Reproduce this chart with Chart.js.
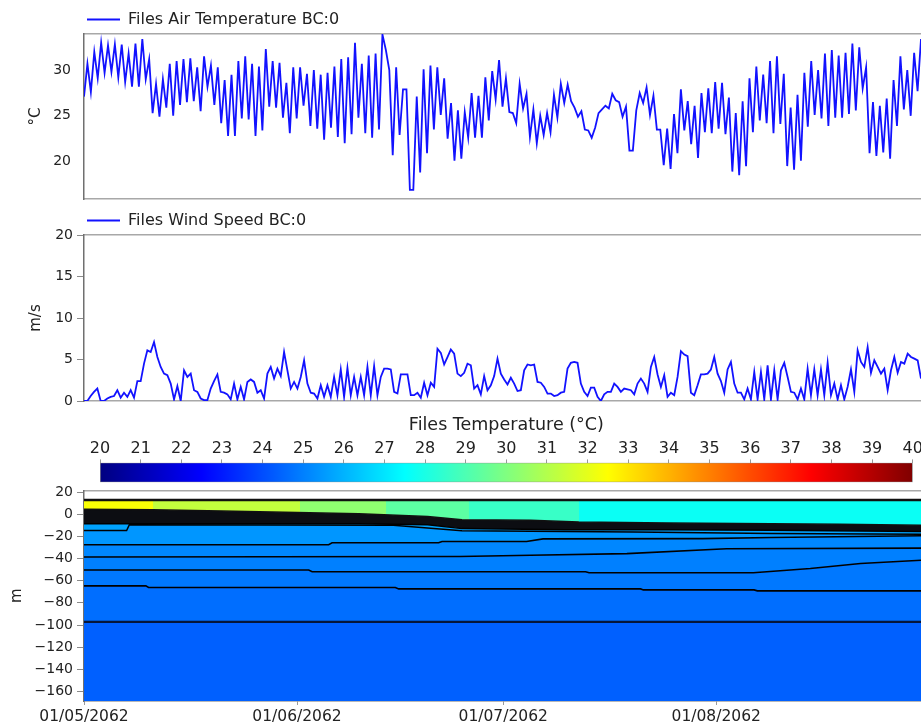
<!DOCTYPE html>
<html>
<head>
<meta charset="utf-8">
<script src="https://cdn.jsdelivr.net/npm/chart.js@4.4.1/dist/chart.umd.min.js"></script>
<style>
  html, body { margin: 0; padding: 0; background: #fff; width: 921px; height: 724px; overflow: hidden; }
  canvas { position: absolute; left: 0; }
</style>
</head>
<body>
<canvas id="airChart" width="921" height="224" style="top:0px"></canvas>
<canvas id="windChart" width="921" height="215" style="top:201px"></canvas>
<canvas id="colourBar" width="921" height="80" style="top:405px"></canvas>
<canvas id="profileChart" width="921" height="246" style="top:478px"></canvas>
<script>
// ---- time axis (days since 01/05/2062) ----
const DAYS_SPAN = 121.8;
const monthTicks = [0, 31, 61, 92];
const monthLabels = ['01/05/2062', '01/06/2062', '01/07/2062', '01/08/2062'];

// ---- air temperature, 12-hourly (°C) ----
const airTemperature = [
  27.1, 30.7, 27.6, 32.0, 29.1, 33.0, 29.7, 32.7, 29.8, 32.8,
  29.2, 32.8, 28.7, 31.8, 28.2, 32.9, 28.2, 33.4, 29.0, 31.2,
  25.3, 28.5, 24.9, 29.0, 25.9, 30.7, 25.0, 31.0, 26.2, 31.2,
  26.5, 31.3, 26.6, 30.3, 25.5, 31.5, 28.2, 30.5, 26.2, 30.3,
  24.2, 28.9, 22.8, 29.5, 22.8, 31.0, 24.7, 31.5, 24.6, 30.7,
  22.8, 30.4, 23.4, 32.3, 26.0, 31.0, 25.9, 30.8, 24.8, 28.6,
  23.1,
  30.3, 24.7, 30.3, 26.1, 29.6, 23.9, 30.0, 23.6, 29.5, 22.4,
  29.7, 23.7, 30.4, 22.7, 31.2, 22.0, 31.4, 23.0, 33.0, 24.8,
  30.7, 23.1, 31.6, 22.6, 31.8, 23.5, 33.9, 32.2, 30.0, 20.7,
  30.3, 22.9, 27.9, 27.9, 16.9, 16.9, 27.1, 18.8, 30.1, 20.9,
  30.5, 23.5, 30.3, 25.1, 29.1, 22.5, 26.4, 20.1, 25.6, 20.3,
  25.4, 22.6, 27.5, 22.6, 27.2, 22.6, 29.2, 24.5, 29.9, 26.8,
  31.1, 26.0,
  29.1, 25.4, 25.3, 24.2, 28.5, 25.8, 27.4, 22.7, 25.7, 22.0,
  25.0, 22.9, 25.3, 23.2, 27.3, 24.8, 28.5, 26.4, 28.4, 26.6,
  25.9, 24.9, 25.5, 23.5, 23.4, 22.6, 23.7, 25.3, 25.7, 26.1,
  25.8, 27.4, 26.7, 26.5, 24.9, 26.0, 21.2, 21.2, 25.6, 27.5,
  26.4, 28.1, 25.1, 27.2, 23.5, 23.5, 19.6, 23.6, 19.2, 25.2,
  20.9, 27.9, 23.4, 26.6, 21.9, 26.1, 20.4, 27.5, 23.2, 28.0,
  23.1,
  28.7, 23.6, 28.6, 23.0, 27.0, 18.9, 25.3, 18.5, 26.6, 19.5,
  29.1, 23.2, 30.4, 24.5, 29.5, 24.2, 31.0, 23.1, 31.5, 24.1,
  29.6, 19.5, 25.9, 19.1, 27.3, 20.1, 29.7, 23.8, 31.0, 25.1,
  30.0, 24.7, 31.8, 23.9, 32.2, 24.8, 31.6, 24.8, 31.9, 25.2,
  32.9, 25.6, 32.5, 28.0, 30.3, 20.9, 26.5, 20.6, 26.1, 21.0,
  26.9, 20.3, 28.9, 23.9, 31.5, 25.7, 30.0, 25.0, 31.9, 27.7,
  33.4
];
const airTicks = [20, 25, 30];

// ---- wind speed (m/s) ----
const windSpeed = [
  0.0, 0.0, 0.6, 1.1, 1.5, 0.0, 0.0, 0.3, 0.5, 0.6,
  1.3, 0.4, 1.0, 0.5, 1.3, 0.4, 2.4, 2.4, 4.5, 6.1,
  5.9, 7.1, 5.3, 4.1, 3.3, 3.1, 2.1, 0.2, 1.8, 0.0,
  3.7, 2.9, 3.3, 1.3, 1.1, 0.3, 0.1, 0.1, 1.5, 2.4,
  3.2, 1.1, 1.0, 0.8, 0.2, 2.1, 0.2, 1.7, 0.2, 2.3,
  2.6, 2.3, 1.0, 1.3, 0.3, 3.3, 4.1, 2.7, 3.9, 3.0,
  5.9, 3.7, 1.5, 2.3, 1.5, 2.9, 4.9, 2.1, 1.0, 0.9,
  0.3, 1.9, 0.5, 1.9, 0.5, 2.9, 0.7, 3.8, 0.5, 4.0,
  0.7, 2.9, 0.7, 2.9, 0.7, 4.1, 0.7, 4.2, 0.7, 2.9,
  3.9, 3.9, 3.8, 1.1, 0.9, 3.2, 3.2, 3.2, 0.7, 0.7,
  1.0, 0.4, 2.2, 0.7, 2.2, 1.7, 6.3, 5.8, 4.4, 5.3,
  6.2, 5.7, 3.3,
  3.0, 3.4, 4.5, 4.3, 1.5, 1.9, 0.8, 3.0, 1.3, 1.9,
  3.0, 5.1, 3.3, 2.6, 2.0, 2.8, 2.1, 1.2, 1.3, 3.7,
  4.4, 4.3, 4.4, 2.3, 2.2, 1.7, 0.9, 0.9, 0.6, 0.7,
  1.0, 1.1, 3.9, 4.6, 4.7, 4.6, 2.1, 1.1, 0.6, 1.6,
  1.6, 0.5, 0.0, 0.8, 1.1, 1.1, 2.1, 1.7, 1.1, 1.5,
  1.4, 1.3, 0.8, 2.1, 2.7, 2.1, 1.1, 4.1, 5.3, 3.2,
  1.7, 3.1, 0.5, 1.0, 0.7, 2.9, 6.0, 5.6, 5.4, 1.0,
  0.7, 1.9, 3.2, 3.2, 3.3, 3.8, 5.3, 3.3, 2.4, 1.0,
  3.8, 4.7, 2.1, 1.0, 1.0, 0.2, 1.5, 0.2, 3.5, 0.2,
  3.5, 0.2, 4.3, 0.2, 3.7, 0.2, 3.7, 4.6, 2.9, 1.1,
  1.0, 0.2, 1.5, 0.2, 3.9, 0.7, 3.8, 0.7, 3.8, 0.7,
  4.6, 0.7, 2.1, 0.2, 1.9, 0.2, 1.7, 3.8, 1.1, 6.1,
  4.7, 4.1, 6.5, 3.4, 4.9, 4.1, 3.3, 3.9, 1.3, 3.7,
  5.3, 3.4, 4.7, 4.5, 5.7, 5.3, 5.1, 4.9, 2.7
];
const windTicks = [0, 5, 10, 15, 20];

// ---- water-column temperature structure (depth in m vs day) ----
const waterSurfaceDays = [0, 121.8];
const waterSurfaceDepth = [12.8, 12.8];
const mixedBaseDays = [0, 10, 20, 31, 40, 50, 55, 65, 72, 85, 100, 110, 121.8];
const mixedBaseDepth = [4.5, 4, 3, 1.5, 0.5, -2, -5, -5.5, -7, -8, -8.5, -9, -10];
const thermoBaseDays = [0, 20, 40, 50, 55, 70, 85, 100, 121.8];
const thermoBaseDepth = [-8.5, -8.5, -8.5, -9.5, -13, -14, -14, -14.5, -15.5];
const iso15Days = [0, 6.2, 6.6, 45, 55, 80, 100, 121.8];
const iso15Depth = [-14.8, -14.8, -9.5, -10, -15, -16, -17.5, -18];
const iso27Days = [0, 35.6, 36.1, 51.6, 52.1, 64.4, 66.8, 90, 100, 121.8];
const iso27Depth = [-27.6, -27.6, -25.8, -25.8, -24.6, -24.6, -22.3, -22.0, -21.0, -19.5];
const iso38Days = [0, 54.7, 65, 79, 93.5, 121.8];
const iso38Depth = [-38.6, -38.2, -37.1, -35.6, -31.2, -30.6];
const iso50Days = [0, 32.7, 33.2, 73, 73.5, 97.4, 105.7, 113, 121.8];
const iso50Depth = [-50.4, -50.4, -51.9, -51.9, -52.8, -52.8, -49, -44.5, -41.5];
const iso65Days = [0, 9.0, 9.4, 45.3, 45.8, 81.0, 81.4, 97.5, 98, 121.8];
const iso65Depth = [-64.7, -64.7, -66.2, -66.2, -67.4, -67.4, -68.3, -68.3, -69.2, -69.2];
const iso97Days = [0, 121.8];
const iso97Depth = [-97.1, -97.1];
const seabedDays = [0, 121.8];
const seabedDepth = [-168.6, -168.6];

// surface-layer temperature per period (°C)
const surfaceBreakDays = [0, 10, 31.5, 44, 56, 72, 121.8];
const surfaceLayerTemp = [32.4, 31.3, 30.3, 29.3, 28.6, 27.7];
// temperature of the deeper layers, from the thermocline down (°C)
const layerTemp = [25.7, 25.45, 25.15, 25.0, 24.85, 24.65, 24.38];

const depthTicks = [-160, -140, -120, -100, -80, -60, -40, -20, 0, 20];
const colourTicks = [20, 21, 22, 23, 24, 25, 26, 27, 28, 29, 30, 31, 32, 33, 34, 35, 36, 37, 38, 39, 40];

// ---- styling ----
const FONT = "'DejaVu Sans', Verdana, sans-serif";
const TEXT = '#222';
const LINE_BLUE = 'rgb(18,18,255)';
const FRAME = '#a8a8a8';
const AXIS = '#707070';

// jet colour map over 20..40 °C
function jet(temp) {
  const t = Math.min(1, Math.max(0, (temp - 20) / 20));
  const c = v => Math.round(255 * Math.min(1, Math.max(0, v)));
  return `rgb(${c(Math.min(4 * t - 1.5, -4 * t + 4.5))},${c(Math.min(4 * t - 0.5, -4 * t + 3.5))},${c(Math.min(4 * t + 0.5, -4 * t + 2.5))})`;
}

function sampleTimes(n) {
  const step = DAYS_SPAN / (n - 1);
  return Array.from({ length: n }, (_, i) => i * step);
}

const fixedTicks = values => scale => { scale.ticks = values.map(v => ({ value: v })); };

function frameAxis(position, min, max) {
  return {
    type: 'linear', position, min, max,
    ticks: { display: false },
    grid: { display: false, drawTicks: false },
    border: { display: true, color: FRAME, width: 1.5 },
    afterFit: s => { s.height = 0; }
  };
}

function valueAxis(min, max, ticks, unit, tickMarks, labelPad, titlePad, labelFn) {
  return {
    type: 'linear', min, max,
    afterBuildTicks: fixedTicks(ticks),
    afterFit: s => { s.width = 84; },
    ticks: {
      color: TEXT, font: { family: FONT, size: 14 }, padding: labelPad,
      callback: labelFn || (v => String(v))
    },
    grid: { display: tickMarks, drawOnChartArea: false, drawTicks: tickMarks, tickLength: 7, color: '#8a8a8a' },
    border: { display: true, color: AXIS, width: 1.5 },
    title: { display: true, text: unit, color: TEXT, font: { family: FONT, size: 15 }, padding: { top: titlePad, bottom: 0 } }
  };
}

const common = { responsive: false, animation: false, devicePixelRatio: 1, events: [] };

function seriesPanel(id, label, values, yMin, yMax, ticks, unit, tickMarks, labelPad, bottomPad) {
  const times = sampleTimes(values.length);
  return new Chart(document.getElementById(id), {
    type: 'line',
    data: {
      datasets: [{
        label,
        data: values.map((v, i) => ({ x: times[i], y: v })),
        borderColor: LINE_BLUE, backgroundColor: LINE_BLUE,
        borderWidth: 1.8, pointRadius: 0, tension: 0, fill: false
      }]
    },
    options: {
      ...common,
      layout: { padding: { top: 8.5, bottom: bottomPad, left: 0, right: 0 } },
      plugins: {
        legend: {
          position: 'top', align: 'start', fullSize: false, maxHeight: 25.5,
          labels: {
            usePointStyle: true, pointStyle: 'line', pointStyleWidth: 33, padding: 3,
            color: TEXT, font: { family: FONT, size: 16 }
          }
        },
        tooltip: { enabled: false }
      },
      scales: {
        x: frameAxis('bottom', 0, DAYS_SPAN),
        xTop: frameAxis('top', 0, DAYS_SPAN),
        y: valueAxis(yMin, yMax, ticks, unit, tickMarks, labelPad, 27)
      }
    }
  });
}

seriesPanel('airChart', 'Files Air Temperature BC:0', airTemperature, 15.9, 33.95, airTicks, '°C', false, 13, 25);
seriesPanel('windChart', 'Files Wind Speed BC:0', windSpeed, 0, 20, windTicks, 'm/s', true, 4, 15);

// ---- colour bar ----
new Chart(document.getElementById('colourBar'), {
  type: 'bar',
  data: {
    labels: [''],
    datasets: [{
      data: [[colourTicks[0], colourTicks[colourTicks.length - 1]]],
      backgroundColor: ctx => {
        const chart = ctx.chart;
        const xs = chart.scales.x;
        const x0 = xs ? xs.getPixelForValue(20) : NaN;
        const x1 = xs ? xs.getPixelForValue(40) : NaN;
        if (!isFinite(x0) || !isFinite(x1) || x1 <= x0) return jet(30);
        const g = chart.ctx.createLinearGradient(x0, 0, x1, 0);
        for (let k = 0; k <= 80; k++) g.addColorStop(k / 80, jet(20 + k * 0.25));
        return g;
      },
      borderColor: '#8c8c8c', borderWidth: 1, borderSkipped: false,
      barPercentage: 1, categoryPercentage: 1
    }]
  },
  options: {
    ...common,
    indexAxis: 'y',
    layout: { padding: { top: 0, bottom: 2.7, left: 100, right: 8.3 } },
    plugins: { legend: { display: false }, tooltip: { enabled: false } },
    scales: {
      x: {
        type: 'linear', position: 'top', min: 20, max: 40,
        afterBuildTicks: fixedTicks(colourTicks),
        afterFit: s => { s.height = 57.7; s.paddingRight = 0; s.paddingLeft = 0; },
        ticks: { color: TEXT, font: { family: FONT, size: 16 }, padding: 1, maxRotation: 0, autoSkip: false },
        grid: { display: true, drawOnChartArea: false, drawTicks: true, tickLength: 3.3, color: '#999' },
        border: { display: false },
        title: {
          display: true, text: 'Files Temperature (°C)', color: TEXT,
          font: { family: FONT, size: 17.5 }, padding: { top: 10, bottom: 0 }
        }
      },
      y: { type: 'category', display: false }
    }
  }
});

// ---- temperature profile (contour bands) ----
const surfaceFill = ctx => {
  const chart = ctx.chart;
  const area = chart.chartArea, xs = chart.scales.x;
  if (!area || !xs) return jet(surfaceLayerTemp[0]);
  const w = area.right - area.left;
  if (!isFinite(w) || w <= 0) return jet(surfaceLayerTemp[0]);
  const g = chart.ctx.createLinearGradient(area.left, 0, area.right, 0);
  const pos = d => {
    const p = (xs.getPixelForValue(d) - area.left) / w;
    return isFinite(p) ? Math.min(1, Math.max(0, p)) : 0;
  };
  surfaceLayerTemp.forEach((t, i) => {
    g.addColorStop(pos(surfaceBreakDays[i]), jet(t));
    g.addColorStop(pos(surfaceBreakDays[i + 1]), jet(t));
  });
  return g;
};

function band(label, days, depth, fillColour, lineColour, lineWidth, fill) {
  return {
    label,
    data: days.map((d, i) => ({ x: d, y: depth[i] })),
    borderColor: lineColour, borderWidth: lineWidth,
    backgroundColor: fillColour, fill,
    pointRadius: 0, tension: 0
  };
}

new Chart(document.getElementById('profileChart'), {
  type: 'line',
  data: {
    datasets: [
      band('surface', waterSurfaceDays, waterSurfaceDepth, 'rgba(0,0,0,0)', '#111', 2.5, false),
      band('mixed layer', mixedBaseDays, mixedBaseDepth, surfaceFill, '#111', 1.5, '-1'),
      band('thermocline', thermoBaseDays, thermoBaseDepth, '#0c0d12', '#000', 1.5, '-1'),
      band('iso15', iso15Days, iso15Depth, jet(layerTemp[0]), '#000', 1.5, '-1'),
      band('iso27', iso27Days, iso27Depth, jet(layerTemp[1]), '#000', 1.6, '-1'),
      band('iso38', iso38Days, iso38Depth, jet(layerTemp[2]), '#000', 1.6, '-1'),
      band('iso50', iso50Days, iso50Depth, jet(layerTemp[3]), '#000', 1.6, '-1'),
      band('iso65', iso65Days, iso65Depth, jet(layerTemp[4]), '#000', 1.6, '-1'),
      band('iso97', iso97Days, iso97Depth, jet(layerTemp[5]), '#06163a', 2.2, '-1'),
      band('seabed', seabedDays, seabedDepth, jet(layerTemp[6]), 'rgba(0,0,0,0)', 0, '-1')
    ]
  },
  options: {
    ...common,
    layout: { padding: { top: 9.3, bottom: 0, left: 0, right: 0 } },
    plugins: { legend: { display: false }, tooltip: { enabled: false } },
    scales: {
      x: {
        type: 'linear', position: 'bottom', min: 0, max: DAYS_SPAN,
        afterBuildTicks: fixedTicks(monthTicks),
        afterFit: s => { s.height = 23; },
        ticks: {
          color: TEXT, font: { family: FONT, size: 15.5 }, padding: 2.7, maxRotation: 0, autoSkip: false,
          callback: v => monthLabels[monthTicks.indexOf(v)] || ''
        },
        grid: { display: true, drawOnChartArea: false, drawTicks: true, tickLength: 4, color: '#999' },
        border: { display: true, color: AXIS, width: 1.5 }
      },
      xTop: frameAxis('top', 0, DAYS_SPAN),
      y: valueAxis(-168.6, 21.5, depthTicks, 'm', true, 4, 8.5, v => (v < 0 ? '\u2212' + Math.abs(v) : String(v)))
    }
  }
});
</script>
</body>
</html>
